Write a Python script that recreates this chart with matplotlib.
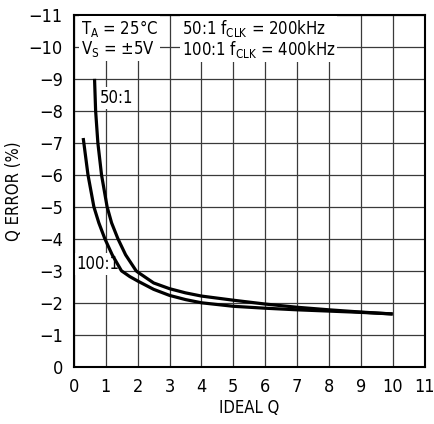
import matplotlib
matplotlib.use("Agg")
import matplotlib.pyplot as plt
from matplotlib import font_manager

# ideal Q vs Q error
q_50 = [0.646, 0.68, 0.75, 0.865, 1.04, 1.18, 1.38, 1.62, 1.95, 2.0, 2.5, 3.0, 3.5, 4.0,
        5.0, 6.0, 7.0, 8.0, 9.0, 10.0]
err_50 = [-9.0, -8.0, -7.0, -6.0, -5.0, -4.5, -4.0, -3.5, -3.0, -2.96, -2.62, -2.44, -2.31, -2.21,
          -2.08, -1.96, -1.86, -1.78, -1.71, -1.65]

q_100 = [0.29, 0.31, 0.44, 0.625, 0.78, 0.97, 1.2, 1.49, 1.75, 2.0, 2.5, 3.0, 3.5, 4.0,
         5.0, 6.0, 7.0, 8.0, 9.0, 10.0]
err_100 = [-7.15, -7.0, -6.0, -5.0, -4.5, -4.0, -3.5, -3.0, -2.82, -2.68, -2.42, -2.23, -2.1, -2.0,
           -1.89, -1.83, -1.78, -1.74, -1.70, -1.65]

xticks = list(range(0, 12))
yticks = list(range(0, -12, -1))

names = {f.name for f in font_manager.fontManager.ttflist}
if "Liberation Sans Narrow" in names:
    plt.rcParams["font.family"] = ["Liberation Sans Narrow", "DejaVu Sans"]
else:
    plt.rcParams["font.family"] = ["DejaVu Sans"]
    plt.rcParams["font.stretch"] = "condensed"
plt.rcParams["mathtext.default"] = "regular"

fig = plt.figure(figsize=(4.35, 4.24), dpi=100)
ax = fig.add_axes([0.170, 0.135, 0.806, 0.830])

ax.plot(q_50, err_50, color="black", lw=2.3, solid_capstyle="butt", solid_joinstyle="round", zorder=3)
ax.plot(q_100, err_100, color="black", lw=2.3, solid_capstyle="butt", solid_joinstyle="round", zorder=3)

ax.set_xlim(0, 11)
ax.set_ylim(0, -11)
ax.set_xticks(xticks)
ax.set_yticks(yticks)
ax.set_yticklabels(["0"] + ["\u2212%d" % (-v) for v in yticks[1:]])
ax.tick_params(length=0, labelsize=13, pad=8)
ax.grid(True, color="#3a3a3a", lw=0.9)
for s in ax.spines.values():
    s.set_linewidth(1.5)

ax.set_xlabel("IDEAL Q", fontsize=12, labelpad=2)
ax.set_ylabel("Q ERROR (%)", fontsize=12, labelpad=4)

box = dict(facecolor="white", edgecolor="none", pad=1.5)
ax.text(0.22, -10.9, "T$_A$ = 25°C\nV$_S$ = ±5V", fontsize=12, va="top", ha="left",
        linespacing=1.0, bbox=box, zorder=4)
ax.text(3.38, -10.9, "50:1 f$_{CLK}$ = 200kHz\n100:1 f$_{CLK}$ = 400kHz", fontsize=12,
        va="top", ha="left", linespacing=1.0, bbox=box, zorder=4)
ax.text(0.82, -8.4, "50:1", fontsize=12, va="center", ha="left", bbox=box, zorder=4)
ax.text(0.08, -3.2, "100:1", fontsize=12, va="center", ha="left", bbox=box, zorder=2)

fig.savefig("out.png", dpi=100)
